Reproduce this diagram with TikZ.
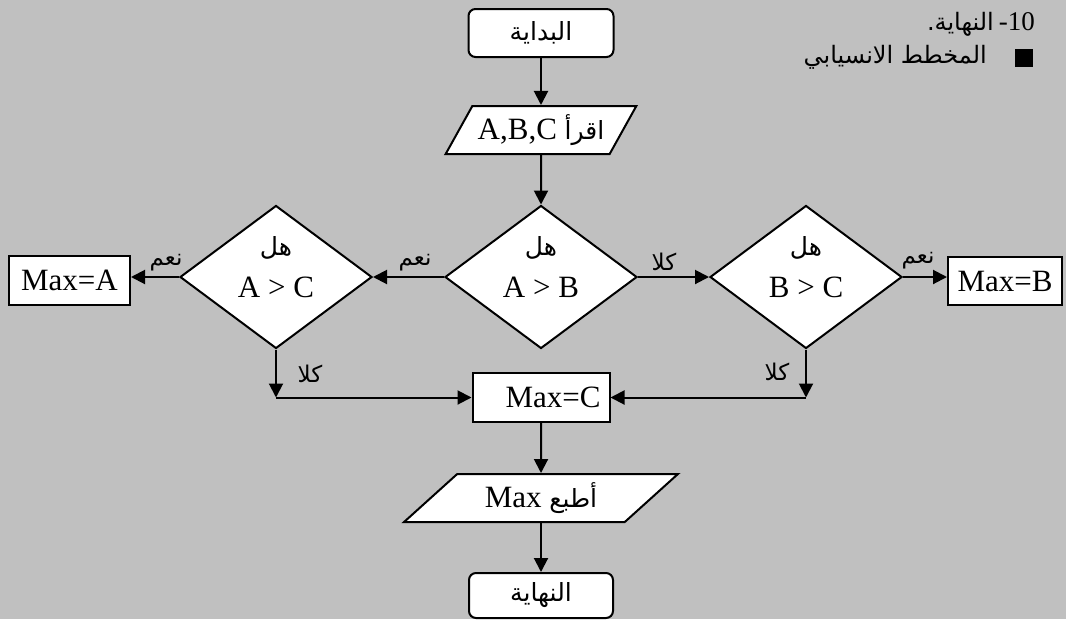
\documentclass[tikz,border=0pt]{standalone}
\usepackage{fontspec}
\setmainfont{Liberation Serif}
\newfontfamily\arabicfont[Script=Arabic]{DejaVu Sans}
\TeXXeTstate=1
\usetikzlibrary{shapes.geometric,arrows.meta}
\definecolor{bg}{HTML}{C0C0C0}
\newcommand\latsize{\fontsize{31}{34}\selectfont}
\newcommand\arbox{\arabicfont\fontsize{25}{28}\selectfont}
\newcommand\arlab{\arabicfont\fontsize{23}{26}\selectfont}
\newcommand\arhead{\arabicfont\fontsize{24}{27}\selectfont}
\newcommand\AR[1]{\beginR#1\endR}
\begin{document}
\begin{tikzpicture}[x=1pt,y=-1pt,
  shp/.style={draw, line width=2pt, fill=white, inner sep=0pt},
  term/.style={shp, rounded corners=7pt},
  proc/.style={shp},
  dia/.style={shp, diamond, minimum width=192pt, minimum height=143pt},
  io/.style={shp, trapezium, trapezium stretches=true, minimum height=48pt},
  arr/.style={line width=2pt, -{Triangle[length=14pt,width=14pt]}},
  lab/.style={inner sep=0pt, font=\arlab},
  txt/.style={inner sep=0pt},
]
\fill[bg] (0,0) rectangle (1066,619);
\useasboundingbox (0,0) rectangle (1066,619);

% header
\node[anchor=east, inner sep=0pt] (h1) at (1035,24) {{\arhead\AR{النهاية.}}\hspace{5pt}{\fontsize{27}{29}\selectfont -10}};
\node[fill=black, minimum size=18pt, inner sep=0pt] (bul) at (1024,58) {};
\node[anchor=east, inner sep=0pt, font=\arhead] (h2) at (987,57) {\AR{المخطط الانسيابي}};

% nodes
\node[term, minimum width=145pt, minimum height=48pt, font=\arbox] (start) at (541,33) {\AR{البداية}};
\node[io, trapezium left angle=51.6, trapezium right angle=128.4, minimum width=191pt, font=\latsize] (read) at (541,130) {A,B,C {\arbox\AR{اقرأ}}};
\node[dia] (ab) at (541,277) {};
\node[dia] (ac) at (276,277) {};
\node[dia] (bc) at (806,277) {};
\node[txt, font=\arbox] (hab) at (541,248) {\AR{هل}};
\node[txt, font=\latsize] (eab) at (541,287) {A > B};
\node[txt, font=\arbox] (hac) at (276,248) {\AR{هل}};
\node[txt, font=\latsize] (eac) at (276,287) {A > C};
\node[txt, font=\arbox] (hbc) at (806,248) {\AR{هل}};
\node[txt, font=\latsize] (ebc) at (806,287) {B > C};

\node[proc, minimum width=121pt, minimum height=49pt, font=\latsize] (ma) at (69.5,280.5) {Max=A};
\node[proc, minimum width=114pt, minimum height=48pt, font=\latsize] (mb) at (1005,281) {Max=B};
\node[proc, minimum width=137pt, minimum height=49pt, font=\latsize] (mc) at (541,397.5) {\hspace{24pt}Max=C};
\node[io, trapezium left angle=41.1, trapezium right angle=138.9, minimum width=274pt, font=\latsize] (pr) at (541,498) {Max {\arbox\AR{أطبع}}};
\node[term, minimum width=144pt, minimum height=45pt, font=\arbox] (end) at (541,595.5) {\AR{النهاية}};

% connectors
\draw[arr] (start) -- (read);
\draw[arr] (read) -- (ab);
\draw[arr] (ab.west) -- (ac.east);
\draw[arr] (ab.east) -- (bc.west);
\draw[arr] (ac.west) -- (ac.west -| ma.east);
\draw[arr] (bc.east) -- (bc.east -| mb.west);
\coordinate (cl) at (ac.south |- mc.west);
\coordinate (cr) at (bc.south |- mc.east);
\draw[arr] (ac.south) -- (cl);
\draw[arr] (cl) -- (mc.west);
\draw[arr] (bc.south) -- (cr);
\draw[arr] (cr) -- (mc.east);
\draw[arr] (mc) -- (pr);
\draw[arr] (pr) -- (end);

% labels
\node[lab] (l1) at (415,263) {\AR{نعم}};
\node[lab] (l2) at (166,263) {\AR{نعم}};
\node[lab] (l3) at (664,262) {\AR{كلا}};
\node[lab] (l4) at (918,261) {\AR{نعم}};
\node[lab] (l5) at (310,374) {\AR{كلا}};
\node[lab] (l6) at (777,372) {\AR{كلا}};
\end{tikzpicture}
\end{document}
